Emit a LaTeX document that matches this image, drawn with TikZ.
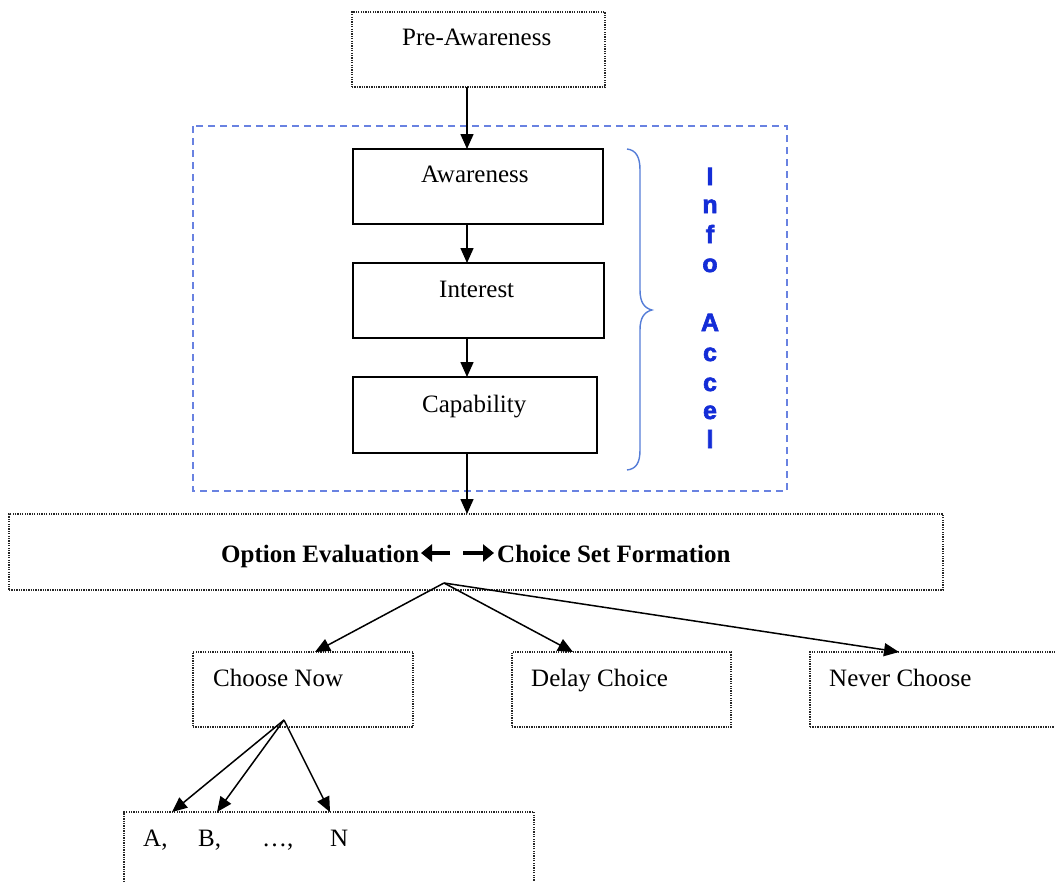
\documentclass[tikz,border=0pt]{standalone}
\usepackage{fontspec}
\setmainfont{Liberation Serif}
\newfontfamily\accelfont{Liberation Sans}[BoldFeatures={FakeBold=2.5}]
\usetikzlibrary{arrows.meta}
\definecolor{dashblue}{RGB}{105,130,225}
\definecolor{bracec}{RGB}{85,125,215}
\definecolor{accelblue}{RGB}{20,45,215}
\begin{document}
\begin{tikzpicture}[x=1pt,y=-1pt,
 dotbox/.style={draw=black!85, line width=1.6pt, dash pattern=on 1.3pt off 1.1pt, inner sep=0pt, outer sep=0pt, rectangle},
 solidbox/.style={draw=black, line width=1.6pt, inner sep=0pt, outer sep=0pt, rectangle},
 grpbox/.style={draw=dashblue, line width=1.5pt, dash pattern=on 7pt off 5pt},
 lbl/.style={anchor=base west, inner sep=0pt, font=\fontsize{25}{30}\selectfont},
 arr/.style={draw=black, line width=1.5pt, -{Triangle[length=15pt,width=13pt]}},
 bigarr/.style={draw=black, line width=4pt, -{Triangle[length=11pt,width=17pt]}},
 accel/.style={anchor=base, inner sep=0pt, text=accelblue, font=\accelfont\bfseries\fontsize{25}{30}\selectfont}]

\useasboundingbox (0,0) rectangle (1055,881);

% boxes
\node[dotbox, minimum width=253pt, minimum height=75pt] (pre) at (478.5,49.5) {};
\draw[grpbox] (193,126) rectangle (787,491);
\node[solidbox, minimum width=250pt, minimum height=75pt] (aw) at (478,186.5) {};
\node[solidbox, minimum width=251pt, minimum height=75pt] (int) at (478.5,300.5) {};
\node[solidbox, minimum width=244pt, minimum height=76pt] (cap) at (475,415) {};
\node[dotbox, minimum width=934pt, minimum height=76pt] (opt) at (476,552) {};
\node[dotbox, minimum width=220pt, minimum height=75pt] (cn) at (303,689.5) {};
\node[dotbox, minimum width=219pt, minimum height=75pt] (dc) at (621.5,689.5) {};
\node[dotbox, minimum width=270pt, minimum height=75pt] (nc) at (945,689.5) {};
\node[dotbox, minimum width=410pt, minimum height=93pt] (abn) at (329,858.5) {};

% labels
\node[lbl] (tpre) at (402,45) {Pre-Awareness};
\node[lbl] (taw) at (421,182) {Awareness};
\node[lbl] (tint) at (439,297) {Interest};
\node[lbl] (tcap) at (422,412) {Capability};
\node[lbl] (topt1) at (221,562) {\bfseries Option Evaluation};
\node[lbl] (topt2) at (497,562) {\bfseries Choice Set Formation};
\coordinate (la1) at (450,553);
\coordinate (la2) at (421,553);
\coordinate (ra1) at (463,553);
\coordinate (ra2) at (494,553);
\draw[bigarr] (la1) -- (la2);
\draw[bigarr] (ra1) -- (ra2);
\node[lbl] (tcn) at (213,686) {Choose Now};
\node[lbl] (tdc) at (531,686) {Delay Choice};
\node[lbl] (tnc) at (829,686) {Never Choose};
\node[lbl] (ta) at (143,846) {A,};
\node[lbl] (tb) at (198,846) {B,};
\node[lbl] (tdots) at (262,846) {\ldots,};
\node[lbl] (tn) at (330,846) {N};

% Info Accel
\node[accel] (l1) at (710,185) {I};
\node[accel] (l2) at (710,213) {n};
\node[accel] (l3) at (710,243) {f};
\node[accel] (l4) at (710,272) {o};
\node[accel] (l5) at (710,331) {A};
\node[accel] (l6) at (710,361) {c};
\node[accel] (l7) at (710,391) {c};
\node[accel] (l8) at (710,419) {e};
\node[accel] (l9) at (710,448) {l};

% brace
\draw[bracec, line width=1.4pt] (627,149) .. controls (636,150) and (640,157) .. (640,170) -- (640,290)
  .. controls (640,302) and (644,308) .. (652,310) .. controls (644,312) and (640,318) .. (640,330)
  -- (640,450) .. controls (640,463) and (636,469) .. (627,470);

% vertical arrows
\coordinate (ax) at (467,0);
\draw[arr] (pre.south -| ax) -- (aw.north -| ax);
\draw[arr] (aw.south -| ax) -- (int.north -| ax);
\draw[arr] (int.south -| ax) -- (cap.north -| ax);
\draw[arr] (cap.south -| ax) -- (opt.north -| ax);

% fan from option box
\coordinate (f1) at (444,583);
\coordinate (t1) at (315,0);
\coordinate (t2) at (573,0);
\coordinate (t3) at (899,0);
\draw[arr] (f1) -- (cn.north -| t1);
\draw[arr] (f1) -- (dc.north -| t2);
\draw[arr] (f1) -- (nc.north -| t3);

% fan from choose now
\coordinate (f2) at (284,720);
\coordinate (u1) at (172,0);
\coordinate (u2) at (217,0);
\coordinate (u3) at (330,0);
\draw[arr] (f2) -- (abn.north -| u1);
\draw[arr] (f2) -- (abn.north -| u2);
\draw[arr] (f2) -- (abn.north -| u3);
\end{tikzpicture}
\end{document}
